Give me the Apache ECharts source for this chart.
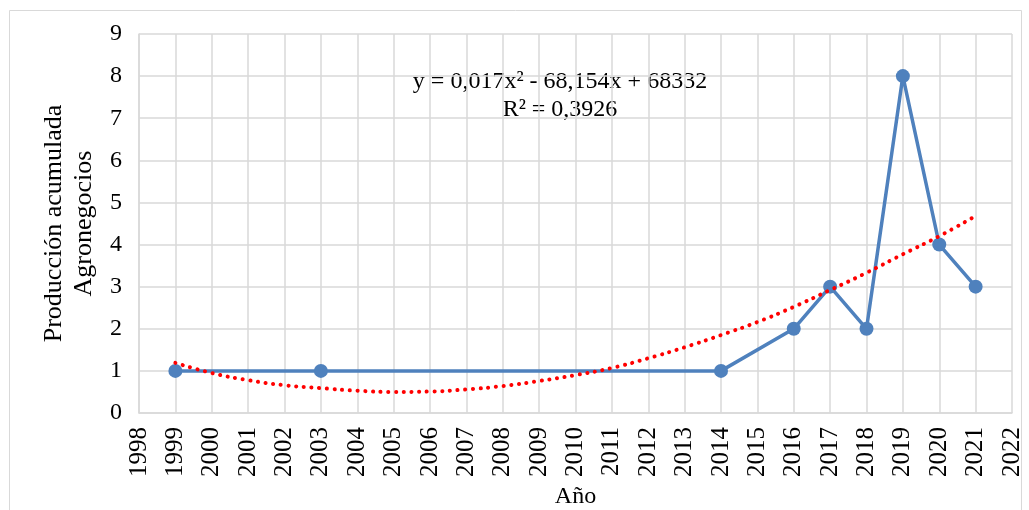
<!DOCTYPE html>
<html><head><meta charset="utf-8">
<script src="https://cdn.jsdelivr.net/npm/echarts@6/dist/echarts.min.js"></script>
<style>html,body{margin:0;padding:0;background:#fff}#c{width:1029px;height:510px}</style>
</head><body><div id="c"></div>
<script>
var years = [1999, 2003, 2014, 2016, 2017, 2018, 2019, 2020, 2021];
var values = [1, 1, 1, 2, 3, 2, 8, 4, 3];
var trendYears = [1999,2000,2001,2002,2003,2004,2005,2006,2007,2008,2009,2010,2011,2012,2013,2014,2015,2016,2017,2018,2019,2020,2021];
var trendValues = [1.19,0.95,0.78,0.66,0.59,0.53,0.5,0.51,0.56,0.64,0.76,0.9,1.07,1.3,1.56,1.85,2.16,2.52,2.92,3.33,3.77,4.2,4.68];
var equationText = 'y = 0,017x² - 68,154x + 68332';
var r2Text = 'R² = 0,3926';

var font = 'Liberation Serif';
var chart = echarts.init(document.getElementById('c'));
chart.setOption({
  backgroundColor: '#fff',
  animation: false,
  textStyle: {fontFamily: font},
  grid: {left: 139, right: 17, top: 34, bottom: 97, containLabel: false, outerBoundsMode: 'none'},
  graphic: [
    {type: 'rect', shape: {x: 9.5, y: 10.5, width: 1012, height: 520}, style: {fill: 'none', stroke: '#d9d9d9', lineWidth: 1}, silent: true},
    {type: 'text', x: 560, y: 68, style: {text: equationText + '\n' + r2Text, font: '24px "Liberation Serif"', fill: '#000', align: 'center', verticalAlign: 'top', lineHeight: 28}, silent: true}
  ],
  xAxis: {
    type: 'value', min: 1998, max: 2022, interval: 1,
    name: 'Año', nameLocation: 'middle', nameGap: 70,
    nameTextStyle: {fontSize: 24, color: '#000', fontFamily: font},
    axisLine: {lineStyle: {color: '#d9d9d9', width: 1.5}},
    axisTick: {show: false},
    axisLabel: {rotate: 90, fontSize: 25, color: '#000', fontFamily: font, margin: 14, formatter: function(v){return String(v);}},
    splitLine: {show: true, lineStyle: {color: '#d9d9d9', width: 1.5}}
  },
  yAxis: {
    type: 'value', min: 0, max: 9, interval: 1,
    name: 'Producción acumulada\nAgronegocios', nameLocation: 'middle', nameGap: 40, nameRotate: 90,
    nameTextStyle: {fontSize: 26, color: '#000', fontFamily: font, lineHeight: 30},
    axisLine: {show: true, lineStyle: {color: '#d9d9d9', width: 1.5}},
    axisTick: {show: false},
    axisLabel: {fontSize: 24, color: '#000', fontFamily: font, margin: 17},
    splitLine: {show: true, lineStyle: {color: '#d9d9d9', width: 1.5}}
  },
  series: [
    {
      type: 'line', data: trendYears.map(function(y,i){return [y, trendValues[i]];}),
      smooth: true, symbol: 'none', z: 3,
      lineStyle: {color: '#ff0000', width: 4, type: [0.1, 7.6], cap: 'round'}
    },
    {
      type: 'line', data: years.map(function(y,i){return [y, values[i]];}),
      symbol: 'circle', symbolSize: 14, z: 2,
      lineStyle: {color: '#4f81bd', width: 3.5},
      itemStyle: {color: '#4f81bd'}
    }
  ]
});
</script></body></html>
